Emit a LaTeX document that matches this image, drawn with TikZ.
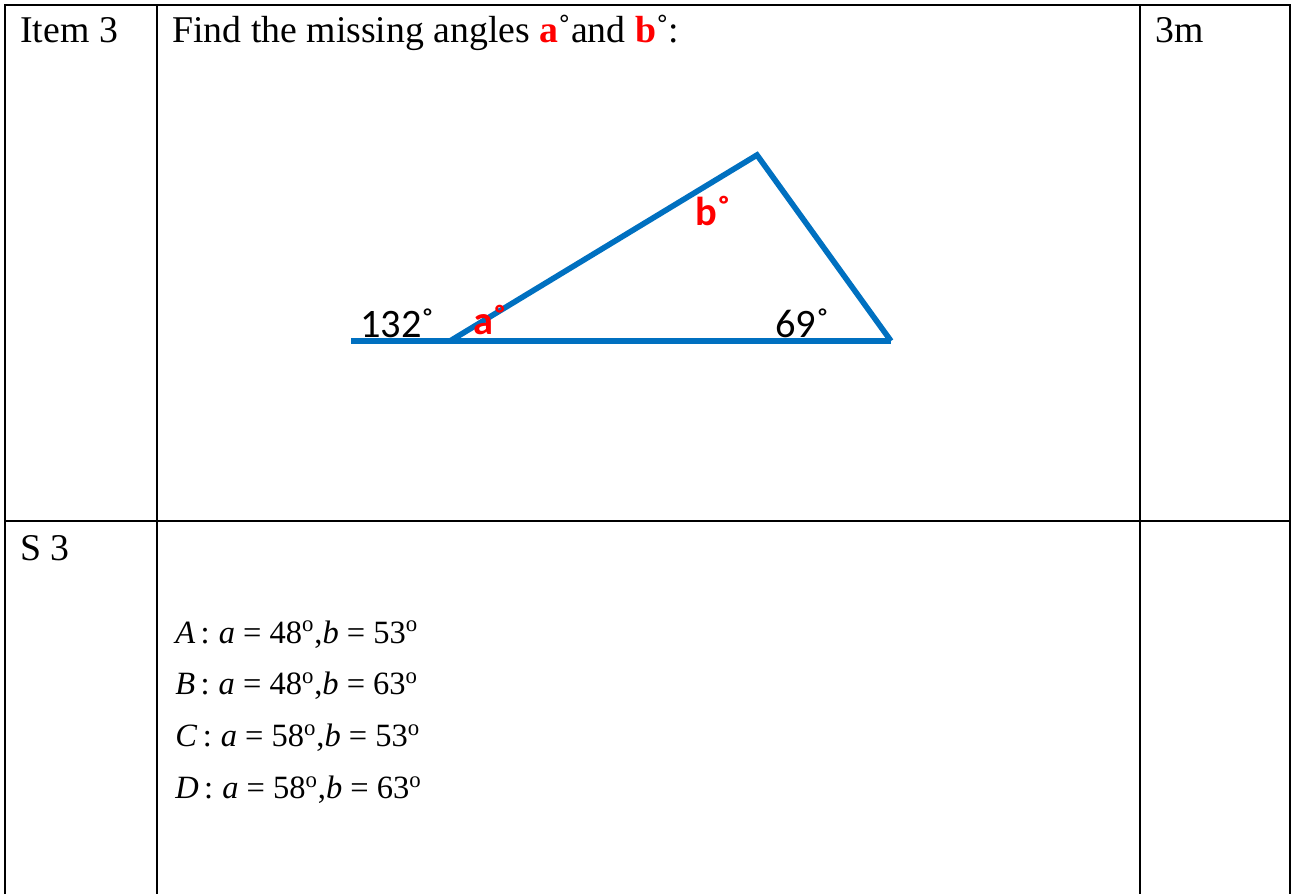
\documentclass[tikz,border=0pt]{standalone}
\usepackage{fontspec}
\setmainfont{Liberation Serif}
\newfontfamily\calib{Carlito}
\usetikzlibrary{positioning}
\definecolor{triblue}{HTML}{0070C0}
\definecolor{angred}{HTML}{FF0000}

\begin{document}
\begin{tikzpicture}[
    x=0.02cm, y=-0.02cm,
    % Estilos de la tabla
    rule/.style={draw=black, line width=1.4pt},
    cell/.style={anchor=base west, inner sep=0pt, font=\fontsize{21.5}{26}\selectfont},
    % Estilos del triangulo
    side/.style={draw=triblue, line width=3.2pt},
    lbl/.style={anchor=base west, inner sep=0pt, font=\calib\fontsize{23}{27}\selectfont},
    redlbl/.style={lbl, text=angred, font=\calib\bfseries\fontsize{23}{27}\selectfont},
    % Estilo de las opciones
    choice/.style={anchor=base west, inner sep=0pt, font=\fontsize{18.5}{22}\selectfont}
]
    \useasboundingbox (0,0) rectangle (1296,894);

    % 1. Lineas de la tabla
    \draw[rule] (5,894) -- (5,5) -- (1290,5) -- (1290,894);
    \draw[rule] (157,5) -- (157,894);
    \draw[rule] (1140,5) -- (1140,894);
    \draw[rule] (5,521) -- (1290,521);

    % 2. Textos de las celdas
    \node[cell] (item)  at (20,42)   {Item 3};
    \node[cell] (task)  at (172,42)  {Find the missing angles \textcolor{angred}{\textbf{a}}˚and \textcolor{angred}{\textbf{b}}˚:};
    \node[cell] (marks) at (1155,42) {3m};
    \node[cell] (sol)   at (20,560)  {S 3};

    % 3. Triangulo
    \coordinate (ext) at (351,341);
    \coordinate (P)   at (450,341);
    \coordinate (Q)   at (757,155);
    \coordinate (R)   at (891,341);

    \draw[side] (ext) -- (R);
    \draw[side] (P) -- (Q) -- (R);

    % 4. Etiquetas de los angulos
    \node[lbl]    (ext ang) at (360,337) {132˚};
    \node[lbl]    (r ang)   at (775,337) {69˚};
    \node[redlbl] (a ang)   at (473,334) {a˚};
    \node[redlbl] (b ang)   at (695,225) {b˚};

    % 5. Opciones de respuesta
    \foreach \lt/\av/\bv [count=\i] in {A/48/53, B/48/63, C/58/53, D/58/63}
        \node[choice] (opt\lt) at (175,{643+51.7*(\i-1)})
            {\textit{\lt}\,:\;\textit{a} = \av\textsuperscript{o},\textit{b} = \bv\textsuperscript{o}};

\end{tikzpicture}
\end{document}
